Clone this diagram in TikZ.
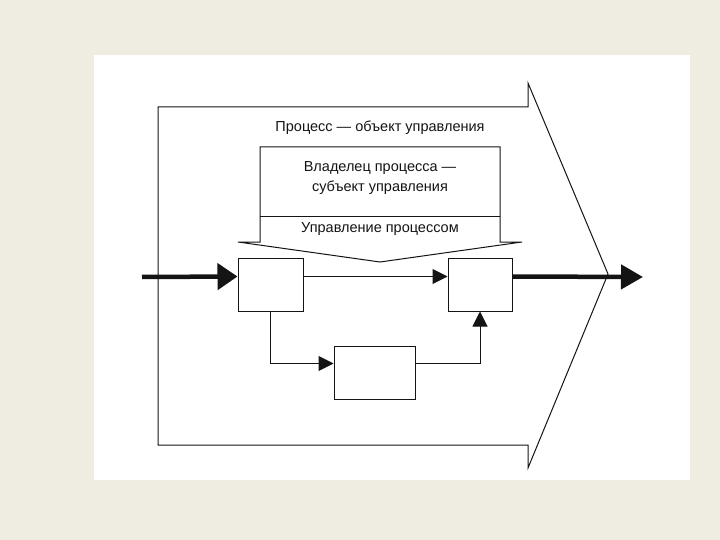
\documentclass[tikz,border=0pt]{standalone}
\usepackage{fontspec}
\setmainfont{Liberation Sans}
\usetikzlibrary{arrows.meta,positioning,calc}
\definecolor{pagebg}{RGB}{239,237,226}
\definecolor{inkgray}{RGB}{20,20,20}
\tikzset{
  blk/.style={draw=inkgray, fill=white, line width=1pt, inner sep=0pt},
  thickarr/.style={-{Triangle[length=20pt,width=26pt]}, inkgray, line width=4.5pt},
  thinarr/.style={-{Triangle[length=15pt,width=15pt]}, inkgray, line width=1pt},
  outline/.style={draw=inkgray, line width=1pt, line join=miter},
  lbl/.style={font=\fontsize{14.5}{20}\selectfont, align=center, text=inkgray},
}

\begin{document}
\begin{tikzpicture}[x=1pt,y=-1pt]
  % --- page
  \fill[pagebg] (0,0) rectangle (720,540);
  \fill[white] (94,55) rectangle (690,480);
  % --- process arrow
  \draw[outline] (528,107) -- (158,107) -- (158,445) -- (528,445)
       -- (528,468) -- (608,274) -- (528,83) -- cycle;
  \node[lbl] (proc) at (380,128) {Процесс — объект управления};
  % --- owner / control
  \draw[outline, fill=white] (260,242) -- (260,147) -- (500,147) -- (500,242)
       -- (522,242) -- (380,262) -- (238,242) -- cycle;
  \draw[outline] (260,217) -- (500,217);
  \node[lbl] (owner) at (380,178) {Владелец процесса —\\ субъект управления};
  \node[lbl] (ctrl) at (380,229) {Управление процессом};
  % --- blocks
  \node[blk, minimum width=65pt, minimum height=53pt] (blkA) at (270.5,284.5) {};
  \node[blk, minimum width=64pt, minimum height=53pt] (blkB) at (480,284.5) {};
  \node[blk, minimum width=81pt, minimum height=53pt] (blkC) at (374.5,372.5) {};
  \coordinate (in) at (142,277);
  \coordinate (out) at (643,277);
  % --- flows
  \draw[thickarr] (in) -- ([yshift=8pt]blkA.west);
  \draw[thinarr] ([yshift=8pt]blkA.east) -- ([yshift=8pt]blkB.west);
  \draw[thickarr, -{Triangle[length=22pt,width=24pt]}] ([yshift=8pt]blkB.east) -- (out);
  \draw[thinarr] (blkA.south) |- ([yshift=9pt]blkC.west);
  \draw[thinarr] ([yshift=9pt]blkC.east) -| (blkB.south);
\end{tikzpicture}
\end{document}
